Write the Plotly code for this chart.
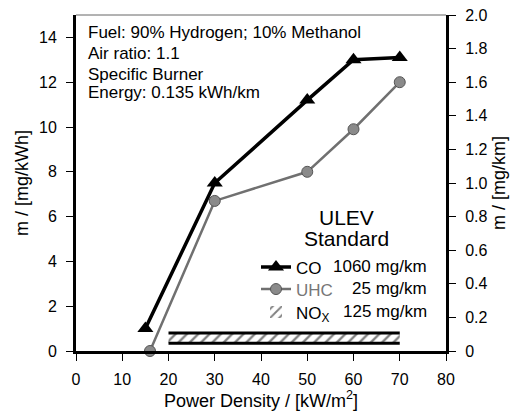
import plotly.graph_objects as go

# Data
power_co = [15, 30, 50, 60, 70]
co_vals = [1.0, 7.5, 11.2, 13.0, 13.1]
power_uhc = [16, 30, 50, 60, 70]
uhc_vals = [0.0, 6.7, 8.0, 9.9, 12.0]
nox_x = [20, 70]
nox_low = 0.35
nox_high = 0.8

x_ticks = [0, 10, 20, 30, 40, 50, 60, 70, 80]
y_ticks = [0, 2, 4, 6, 8, 10, 12, 14]
y2_ticks = [0, 0.2, 0.4, 0.6, 0.8, 1.0, 1.2, 1.4, 1.6, 1.8, 2.0]
y2_labels = ["0", "0.2", "0.4", "0.6", "0.8", "1.0", "1.2", "1.4", "1.6", "1.8", "2.0"]

limits = ["1060 mg/km", "25 mg/km", "125 mg/km"]

FONT = "Liberation Sans, Arial, sans-serif"

fig = go.Figure()

# NOx band (hatched)
fig.add_trace(go.Bar(
    x=[(nox_x[0] + nox_x[1]) / 2], y=[nox_high - nox_low], base=[nox_low],
    width=[nox_x[1] - nox_x[0]],
    marker=dict(color="white", line=dict(width=0),
                pattern=dict(shape="/", fgcolor="black", bgcolor="white", size=8, solidity=0.3)),
    name="NO<sub>X</sub>", legend="legend3", showlegend=True, hoverinfo="skip"))
for yv in [nox_low, nox_high]:
    fig.add_trace(go.Scatter(x=nox_x, y=[yv, yv], mode="lines",
                             line=dict(color="black", width=3), showlegend=False, hoverinfo="skip"))

# UHC
fig.add_trace(go.Scatter(
    x=power_uhc, y=uhc_vals, mode="lines+markers", name="<span style='color:#777'>UHC</span>",
    legend="legend2",
    line=dict(color="#707070", width=2.5),
    marker=dict(symbol="circle", size=11, color="#8a8a8a", line=dict(color="#555", width=1)),
    cliponaxis=False))

# CO
fig.add_trace(go.Scatter(
    x=power_co, y=co_vals, mode="lines+markers", name="CO", legend="legend",
    line=dict(color="black", width=3.5),
    marker=dict(symbol="triangle-up", size=14, color="black"),
    cliponaxis=False))

# right axis anchor trace
fig.add_trace(go.Scatter(x=[0], y=[0], yaxis="y2", mode="markers",
                         marker=dict(opacity=0), showlegend=False, hoverinfo="skip"))

axis_common = dict(ticks="outside", ticklen=7, tickwidth=1, tickcolor="black",
                   showline=True, linecolor="black", linewidth=3,
                   showgrid=False, zeroline=False, automargin=False,
                   tickfont=dict(size=16))

L, R, T, B = 76, 80, 15, 60
W, H = 526, 411
PW, PH = W - L - R, H - T - B


def px_x(p):
    return (p - L) / PW


def px_y(p):
    return (H - B - p) / PH


def leg(py):
    return dict(x=px_x(256), y=px_y(py - 16.5), xanchor="left", yanchor="top",
                bgcolor="rgba(0,0,0,0)", font=dict(size=17), itemwidth=30)


fig.update_layout(
    width=W, height=H,
    margin=dict(l=L, r=R, t=T, b=B),
    paper_bgcolor="white", plot_bgcolor="white",
    font=dict(family=FONT, size=16, color="black"),
    barmode="overlay",
    xaxis=dict(range=[0, 80], tickvals=x_ticks, ticklabelstandoff=5,
               title=dict(text="Power Density / [kW/m<sup>2</sup>]", font=dict(size=18), standoff=6),
               **axis_common),
    yaxis=dict(range=[0, 15], tickvals=y_ticks, ticklabelstandoff=6,
               title=dict(text="m / [mg/kWh]", font=dict(size=18), standoff=6),
               **axis_common),
    yaxis2=dict(range=[0, 2.0], overlaying="y", side="right", tickvals=y2_ticks, ticktext=y2_labels,
                ticklabelstandoff=6,
                title=dict(text="m / [mg/km]", font=dict(size=18), standoff=6),
                **axis_common),
    legend=leg(266),
    legend2=leg(288),
    legend3=leg(311),
    showlegend=True,
)

# top border (thin)
fig.add_shape(type="line", xref="paper", yref="paper", x0=0, x1=1, y0=1, y1=1,
              line=dict(color="#666", width=1))

ann_font = dict(family=FONT, size=17, color="black")
texts = [("Fuel: 90% Hydrogen; 10% Methanol", 32),
         ("Air ratio: 1.1", 53),
         ("Specific Burner", 74),
         ("Energy: 0.135 kWh/km", 93)]
for t, py in texts:
    fig.add_annotation(text=t, xref="paper", yref="paper", x=px_x(86), y=px_y(py), xanchor="left",
                       yanchor="middle", showarrow=False, font=ann_font, align="left")

for t, py in [("ULEV", 217), ("Standard", 238)]:
    fig.add_annotation(text=t, xref="paper", yref="paper", x=px_x(346), y=px_y(py),
                       xanchor="center", yanchor="middle", showarrow=False,
                       font=dict(family=FONT, size=21, color="black"))

for lim, py in zip(limits, [266, 288, 311]):
    fig.add_annotation(text=lim, xref="paper", yref="paper", x=px_x(429), y=px_y(py),
                       xanchor="right", yanchor="middle", showarrow=False,
                       font=dict(family=FONT, size=17, color="black"))

fig.write_html("out.html", config={"displayModeBar": False},
               post_script="document.body.style.margin='0';document.body.style.padding='0';")
